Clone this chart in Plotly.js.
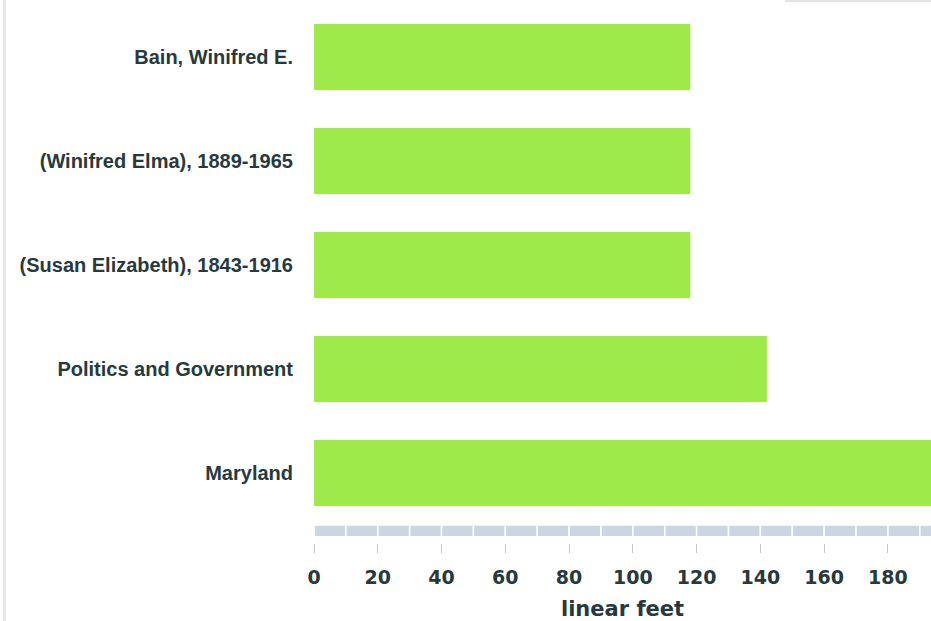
<!DOCTYPE html>
<html>
<head>
<meta charset="utf-8">
<script src="https://cdn.plot.ly/plotly-3.0.1.min.js"></script>
<style>
  html, body { margin: 0; padding: 0; background: #ffffff; }
  #wrap { position: relative; width: 931px; height: 621px; overflow: hidden; }
  #chart { position: absolute; left: 0; top: 0; width: 931px; height: 621px; }
  #edge { position: absolute; left: 3px; top: 0; width: 3px; height: 621px; background: #e6e6e6; }
  #topline { position: absolute; left: 785px; top: 0; width: 146px; height: 2px; background: #e2e2e2; }
</style>
</head>
<body>
<div id="wrap">
  <div id="chart"></div>
  <div id="edge"></div>
  <div id="topline"></div>
</div>
<script>
// Data (top to bottom)
const categories = [
  "Bain, Winifred E.",
  "(Winifred Elma), 1889-1965",
  "(Susan Elizabeth), 1843-1916",
  "Politics and Government",
  "Maryland"
];
const linearFeet = [118, 118, 118, 142, 200];
const xTickValues = [0, 20, 40, 60, 80, 100, 120, 140, 160, 180];
const xAxisTitle = "linear feet";

const barColor = "#9fea4b";
const textColor = "#263a3d";
const bandColor = "#cad6e4";

const xMax = 193.5;

// decorative segmented band under the plot (every 10 units)
const shapes = [];
for (let v = 0; v < xMax; v += 10) {
  shapes.push({
    type: "rect", xref: "x", yref: "paper",
    x0: v, x1: v + 10,
    y0: 0.0115, y1: 0.0335,
    fillcolor: bandColor,
    line: { color: "#ffffff", width: 1.5 },
    layer: "above"
  });
}

const trace = {
  type: "bar",
  orientation: "h",
  y: categories,
  x: linearFeet,
  marker: { color: barColor, line: { width: 0 } },
  hoverinfo: "x+y"
};

const layout = {
  width: 931,
  height: 621,
  margin: { l: 314, r: 0, t: 5, b: 78, pad: 0 },
  paper_bgcolor: "#ffffff",
  plot_bgcolor: "#ffffff",
  showlegend: false,
  bargap: 0.365,
  shapes: shapes,
  xaxis: {
    range: [0, xMax],
    anchor: "free",
    position: 0,
    tickvals: xTickValues,
    ticktext: xTickValues.map(String),
    ticks: "outside",
    ticklen: 9,
    tickwidth: 1,
    tickcolor: "#c8c8c8",
    showgrid: false,
    zeroline: false,
    showline: false,
    tickfont: { family: "DejaVu Sans", size: 19, color: textColor, weight: "bold" },
    ticklabelstandoff: 8,
    title: {
      text: "<b>" + xAxisTitle + "</b>",
      font: { family: "DejaVu Sans", size: 21, color: textColor },
      standoff: 15
    },
    fixedrange: true
  },
  yaxis: {
    domain: [0.0335, 1],
    type: "category",
    autorange: "reversed",
    ticks: "",
    showgrid: false,
    zeroline: false,
    showline: false,
    ticklabelstandoff: 20,
    tickfont: { family: "Liberation Sans, Arial, sans-serif", size: 20, color: textColor, weight: "bold" },
    fixedrange: true
  }
};

Plotly.newPlot("chart", [trace], layout, { displayModeBar: false, staticPlot: true });
</script>
</body>
</html>
